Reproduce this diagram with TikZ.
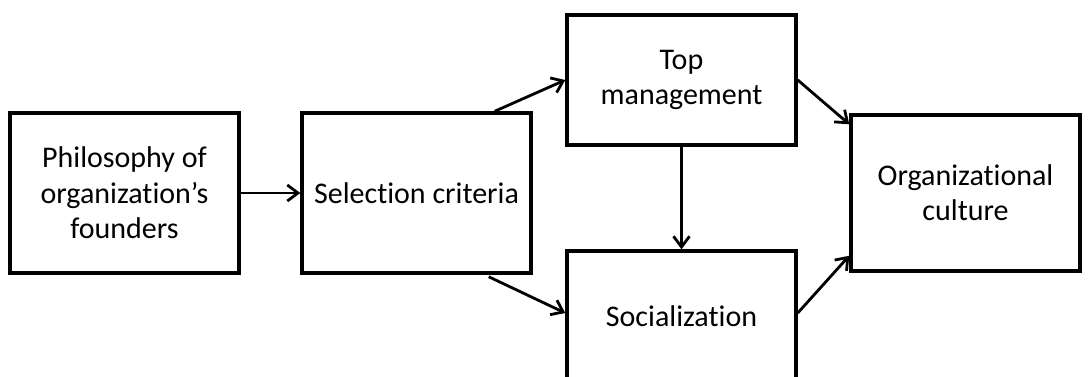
\documentclass[tikz,border=0pt]{standalone}
\usepackage{fontspec}
\setmainfont[Ligatures=NoCommon]{Carlito}
\usetikzlibrary{arrows.meta,calc}
\begin{document}
\begin{tikzpicture}[x=0.75pt,y=-0.75pt,
  box/.style={draw=black, line width=2.6pt, fill=white, rectangle,
    inner sep=0pt, align=center,
    font=\fontsize{22.5}{26.5}\selectfont},
  flow/.style={line width=2.1pt, -{Straight Barb[length=8pt,width=12pt,line width=2.1pt]}}]
\useasboundingbox (0,0) rectangle (1088,376);
\clip (0,0) rectangle (1088,376);
% boxes
\node[box, minimum width=171.75pt, minimum height=120pt] (b1) at (124.5,193) {Philosophy of\\organization’s\\founders};
\node[box, minimum width=171.75pt, minimum height=120pt] (b2) at (416.5,193) {Selection criteria};
\node[box, minimum width=171.75pt, minimum height=97.5pt] (top) at (681.5,80) {Top\\management};
\node[box, minimum width=171.75pt, minimum height=105pt] (soc) at (681.5,321) {};
\node[font=\fontsize{22.5}{26.5}\selectfont] (soctext) at (681.5,316) {Socialization};
\node[box, minimum width=171.75pt, minimum height=117pt] (org) at (965.5,193) {Organizational\\culture};
% connectors
\draw[flow] (b1.east) -- (b2.west);
\draw[flow] ($(b2.north east)+(-38,0)$) -- (top.west);
\draw[flow] ($(b2.south east)+(-44,2)$) -- ($(soc.west)+(0,-8)$);
\draw[flow] (top.south) -- (soc.north);
\draw[flow] (top.east) -- ($(org.north west)+(0,11)$);
\draw[flow] ($(soc.east)+(0,-8)$) -- ($(org.south west)+(0,-17)$);
\end{tikzpicture}
\end{document}
